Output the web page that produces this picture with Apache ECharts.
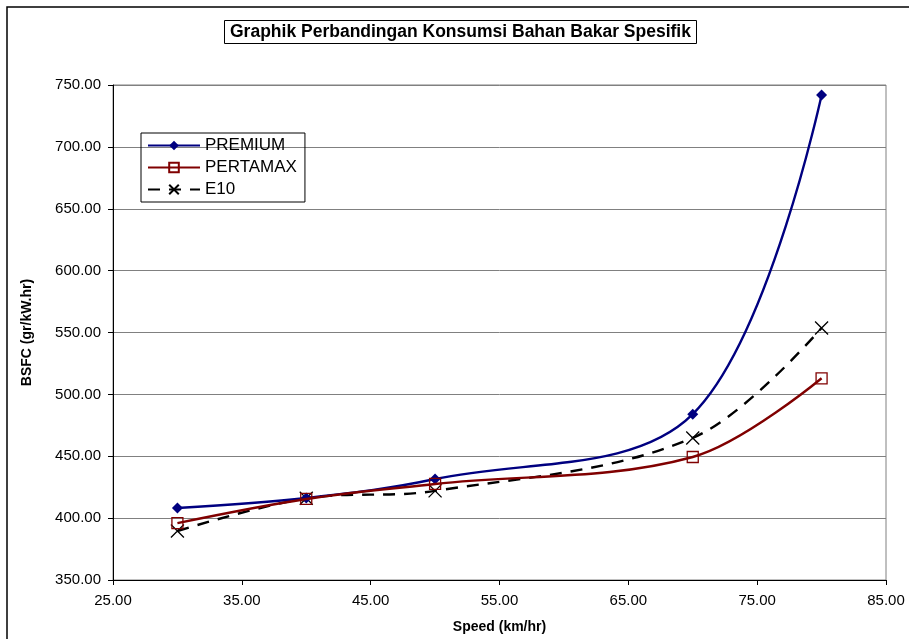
<!DOCTYPE html>
<html>
<head>
<meta charset="utf-8">
<script src="https://cdn.jsdelivr.net/npm/echarts@6/dist/echarts.min.js"></script>
<style>
  html, body { margin: 0; padding: 0; background: #fff; }
  #chart { width: 909px; height: 639px; }
</style>
</head>
<body>
<div id="chart"></div>
<script>
// kecepatan (km/hr)
var speed = [30, 40, 50, 70, 80]
// BSFC (gr/kW.hr)
var premium = [408.2, 416.3, 431.6, 484.0, 742.0]
var pertamax = [396.0, 415.5, 427.6, 449.4, 513.0]
var e10 = [389.6, 416.0, 422.0, 464.8, 553.7]

function pairs(ys) {
    return speed.map(function (x, i) { return [x, ys[i]] })
}

var font = 'Arial, "Liberation Sans", sans-serif'
var chart = echarts.init(document.getElementById('chart'))

var option = {
    animation: false,
    backgroundColor: '#fff',
    textStyle: { fontFamily: font },
    graphic: [
        // bingkai luar
        { type: 'rect', shape: { x: 7, y: 7, width: 920, height: 660 },
          style: { fill: 'none', stroke: '#000', lineWidth: 1.5 }, silent: true }
    ],
    title: {
        text: 'Graphik Perbandingan Konsumsi Bahan Bakar Spesifik',
        left: 224,
        top: 20,
        padding: [3, 6, 3, 6],
        borderColor: '#000',
        borderWidth: 1,
        textStyle: { fontSize: 17.5, fontWeight: 'bold', color: '#000', fontFamily: font }
    },
    legend: {
        orient: 'vertical',
        left: 141,
        top: 133,
        padding: [4, 8, 4, 6],
        borderColor: '#000',
        borderWidth: 1,
        itemWidth: 52,
        itemHeight: 12,
        itemGap: 5,
        textStyle: { fontSize: 17, color: '#000', fontFamily: font },
        data: ['PREMIUM', 'PERTAMAX', 'E10']
    },
    grid: {
        left: 113, right: 23, top: 85, bottom: 59,
        show: true, borderColor: '#808080', borderWidth: 1
    },
    xAxis: {
        type: 'value',
        min: 25, max: 85, interval: 10,
        name: 'Speed (km/hr)',
        nameLocation: 'middle',
        nameGap: 40,
        nameTextStyle: { fontSize: 14, fontWeight: 'bold', color: '#000' },
        axisLine: { lineStyle: { color: '#000', width: 1 } },
        axisTick: { show: true, length: 5, lineStyle: { color: '#000' } },
        axisLabel: { fontSize: 15, color: '#000', margin: 13,
            formatter: function (v) { return v.toFixed(2) } },
        splitLine: { show: false }
    },
    yAxis: {
        type: 'value',
        min: 350, max: 750, interval: 50,
        name: 'BSFC (gr/kW.hr)',
        nameLocation: 'middle',
        nameGap: 79,
        nameTextStyle: { fontSize: 14, fontWeight: 'bold', color: '#000' },
        axisLine: { show: true, lineStyle: { color: '#000', width: 1 } },
        axisTick: { show: true, length: 5, lineStyle: { color: '#000' } },
        axisLabel: { fontSize: 15, color: '#000', margin: 12,
            formatter: function (v) { return v.toFixed(2) } },
        splitLine: { lineStyle: { color: '#808080', width: 1 } }
    },
    series: [
        {
            name: 'PREMIUM',
            type: 'line',
            smooth: 0.35,
            data: pairs(premium),
            symbol: 'diamond',
            symbolSize: 11,
            lineStyle: { color: '#000080', width: 2.4 },
            itemStyle: { color: '#000080' },
            z: 3
        },
        {
            name: 'PERTAMAX',
            type: 'line',
            smooth: 0.35,
            data: pairs(pertamax),
            symbol: 'rect',
            symbolSize: 11,
            lineStyle: { color: '#800000', width: 2.4 },
            itemStyle: { color: 'rgba(255,255,255,0)', borderColor: '#800000', borderWidth: 1.3 },
            z: 4
        },
        {
            name: 'E10',
            type: 'line',
            smooth: 0.35,
            data: pairs(e10),
            symbol: 'path://M0,0L10,10M10,0L0,10',
            symbolSize: 13,
            lineStyle: { color: '#000', width: 2.4, type: [12, 9] },
            itemStyle: { color: 'rgba(0,0,0,0)', borderColor: '#000', borderWidth: 1.3 },
            z: 2
        }
    ]
}

option && chart.setOption(option)
</script>
</body>
</html>
